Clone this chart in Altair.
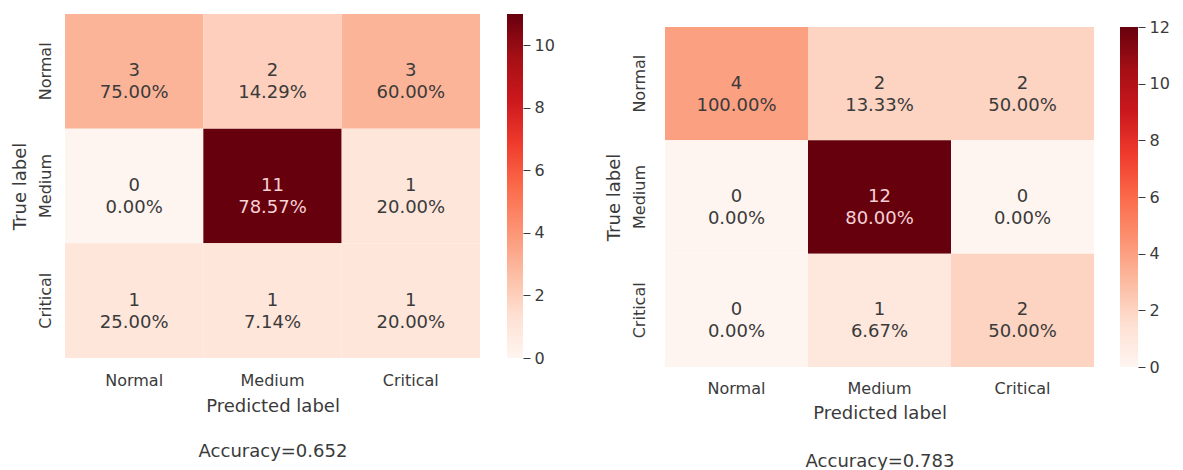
import altair as alt
import pandas as pd

categories = ["Normal", "Medium", "Critical"]

# left matrix (rows = true label, columns = predicted label)
left_counts = [[3, 2, 3], [0, 11, 1], [1, 1, 1]]
left_pcts = [[75.00, 14.29, 60.00], [0.00, 78.57, 20.00], [25.00, 7.14, 20.00]]
left_accuracy = "Accuracy=0.652"
left_max = 11
left_ticks = [0, 2, 4, 6, 8, 10]

# right matrix
right_counts = [[4, 2, 2], [0, 12, 0], [0, 1, 2]]
right_pcts = [[100.00, 13.33, 50.00], [0.00, 80.00, 0.00], [0.00, 6.67, 50.00]]
right_accuracy = "Accuracy=0.783"
right_max = 12
right_ticks = [0, 2, 4, 6, 8, 10, 12]

# matplotlib "Reds" colormap stops
reds = ["#fff5f0", "#fee0d2", "#fcbba1", "#fc9272", "#fb6a4a",
        "#ef3b2c", "#cb181d", "#a50f15", "#67000d"]

FONT = "DejaVu Sans"
TXT = "#3a3a3a"


def frame(counts, pcts):
    rows = []
    for i, t in enumerate(categories):
        for j, p in enumerate(categories):
            rows.append({
                "true": t,
                "pred": p,
                "count": counts[i][j],
                "label": f"{counts[i][j]}\n{pcts[i][j]:.2f}%",
            })
    return pd.DataFrame(rows)


def panel(counts, pcts, vmax, ticks, acc, width, height, top, thick, xlab_pad,
          xtitle_pad, title_lh, ylab_pad, ytitle_pad, cbar_gap):
    df = frame(counts, pcts)
    base = alt.Chart(df)
    n = len(reds) - 1
    stops = [vmax * k / n for k in range(len(reds))]
    x = alt.X("pred:N", sort=categories, scale=alt.Scale(paddingInner=0, paddingOuter=0),
              axis=alt.Axis(title=["Predicted label", acc], labelAngle=0, ticks=False,
                            domain=False, labelFontSize=16, titleFontSize=18,
                            titleFontWeight="normal", labelColor=TXT, titleColor=TXT,
                            labelPadding=xlab_pad, titlePadding=xtitle_pad,
                            titleLineHeight=title_lh, labelFont=FONT, titleFont=FONT))
    yscale = alt.Scale(paddingInner=0, paddingOuter=0, range=[top, top + height])
    y = alt.Y("true:N", sort=categories, scale=yscale,
              axis=alt.Axis(title="True label", labelAngle=270, labelAlign="center",
                            labelBaseline="bottom", ticks=False, domain=False,
                            labelFontSize=16, titleFontSize=18, titleFontWeight="normal",
                            labelColor=TXT, titleColor=TXT, labelPadding=ylab_pad,
                            titlePadding=ytitle_pad, labelFont=FONT, titleFont=FONT,
                            titleY=top + height / 2))
    rect = base.mark_rect().encode(
        x=x, y=y,
        color=alt.Color("count:Q",
                        scale=alt.Scale(domain=stops, range=reds, interpolate="rgb"),
                        legend=None),
    )
    text = base.mark_text(lineBreak="\n", fontSize=18, lineHeight=22, font=FONT).encode(
        x=alt.X("pred:N", sort=categories),
        y=alt.Y("true:N", sort=categories, scale=yscale),
        text="label:N",
        color=alt.condition(alt.datum.count > vmax * 0.6, alt.value("#f6d2d6"), alt.value(TXT)),
    )
    heat = alt.layer(rect, text).properties(width=width, height=top + height)

    # colour bar: one rect spanning 0..vmax on its own quantitative scale
    grad = alt.Gradient(gradient="linear", x1=0, x2=0, y1=1, y2=0,
                        stops=[alt.GradientStop(color=c, offset=k / n)
                               for k, c in enumerate(reds)])
    cbar = alt.Chart(pd.DataFrame({"lo": [0], "hi": [vmax]})).mark_rect(
        fill=grad, stroke=None).encode(
        x=alt.value(0), x2=alt.value(thick),
        y=alt.Y("lo:Q", scale=alt.Scale(domain=[0, vmax], range=[top + height, top], nice=False),
                axis=alt.Axis(orient="right", values=ticks, title=None, grid=False,
                              domain=False, ticks=True, tickSize=7, tickColor=TXT,
                              tickWidth=1, labelFontSize=16, labelColor=TXT,
                              labelFont=FONT, labelPadding=4, labelFlush=False)),
        y2="hi:Q",
    ).properties(width=thick, height=top + height)
    return alt.hconcat(heat, cbar, spacing=cbar_gap)


left = panel(left_counts, left_pcts, left_max, left_ticks, left_accuracy,
             415, 344, 0, 16, 14, 9, 45, 12, 8, 27)
right = panel(right_counts, right_pcts, right_max, right_ticks, right_accuracy,
              429, 340, 13, 18, 13, 8, 48, 18, 8, 26)

chart = alt.hconcat(left, right, spacing=50).resolve_scale(color="independent").properties(
    padding={"left": 10, "top": 14, "right": 0, "bottom": 0}
).configure(background="white").configure_view(stroke=None)

chart.save("out.html", embed_options={"renderer": "svg", "actions": False})
